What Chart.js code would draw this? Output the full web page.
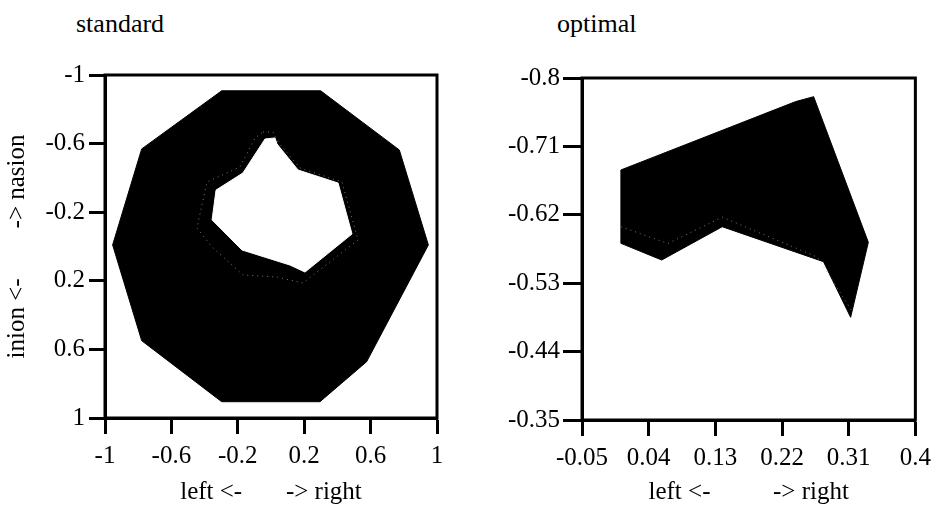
<!DOCTYPE html>
<html>
<head>
<meta charset="utf-8">
<script src="https://cdn.jsdelivr.net/npm/chart.js@4.4.1/dist/chart.umd.min.js"></script>
<style>
html, body { margin: 0; padding: 0; background: #fff; }
#wrap { position: relative; width: 938px; height: 505px; overflow: hidden; }
canvas { position: absolute; top: 0; }
.ttl { position: absolute; top: 11px; font: 26px 'Liberation Serif', serif; line-height: 25px; color: #000; }
</style>
</head>
<body>
<div id="wrap">
  <div class="ttl" style="left:76px">standard</div>
  <div class="ttl" style="left:557px">optimal</div>
  <canvas id="std" width="470" height="505" style="left:0"></canvas>
  <canvas id="opt" width="468" height="505" style="left:470px"></canvas>
</div>
<script>
// standard: outer ring edge, inner hole edge, faint dotted contour
const stdOuter = [[-0.297,-0.908],[0.299,-0.908],[0.773,-0.563],[0.948,-0.009],[0.576,0.672],[0.295,0.905],
    [-0.297,0.905],[-0.779,0.549],[-0.954,-0.009],[-0.779,-0.569],[-0.297,-0.908]];
const stdInner = [[-0.036,-0.627],[0.024,-0.633],[0.036,-0.598],[0.163,-0.446],[0.404,-0.370],[0.488,-0.073],
    [0.205,0.149],[0.114,0.108],[-0.175,0.020],[-0.355,-0.155],[-0.331,-0.329],[-0.169,-0.429],[-0.036,-0.627]];
const stdDots = [[-0.048,-0.668],[0.012,-0.668],[0.042,-0.609],[0.175,-0.458],[0.428,-0.376],[0.524,-0.038],
    [0.193,0.213],[0.036,0.178],[-0.169,0.166],[-0.355,0.003],[-0.446,-0.108],[-0.386,-0.376],[-0.187,-0.464],
    [-0.096,-0.633],[-0.048,-0.668]];

// optimal: filled shape and its dotted inner contour
const optShape = [[0.0025,-0.679],[0.2385,-0.769],[0.2627,-0.7754],[0.3365,-0.5838],[0.3126,-0.4851],[0.276,-0.5583],
    [0.1393,-0.6043],[0.0576,-0.5605],[0.0025,-0.5825],[0.0025,-0.679]];
const optDots = [[0.0025,-0.6043],[0.066,-0.5823],[0.1393,-0.6169],[0.2677,-0.5643],[0.314,-0.4941]];

const stdXTicks = [-1, -0.6, -0.2, 0.2, 0.6, 1];
const stdYTicks = [-1, -0.6, -0.2, 0.2, 0.6, 1];
const optXTicks = [-0.05, 0.04, 0.13, 0.22, 0.31, 0.4];
const optYTicks = [-0.8, -0.71, -0.62, -0.53, -0.44, -0.35];

const SP = '\u00A0';
const xTitleStd = 'left <-' + SP.repeat(7) + '-> right';
const xTitleOpt = 'left <-' + SP.repeat(10) + '-> right';
const yTitleStd = 'inion <-' + SP.repeat(8) + '-> nasion';

const FONT = { family: "'Liberation Serif', 'Times New Roman', serif", size: 25 };

const toPoints = arr => arr.map(([x, y]) => ({ x, y }));

const frame = {
    id: 'frame',
    afterDatasetsDraw(chart) {
        const { ctx, chartArea: a } = chart;
        ctx.save();
        ctx.strokeStyle = '#000';
        ctx.lineWidth = 3;
        ctx.strokeRect(a.left, a.top, a.right - a.left, a.bottom - a.top);
        ctx.restore();
    }
};

const makeScale = (tickValues, reverse, fitSize, tickLength, padding, title, titlePad = 0) => ({
    type: 'linear',
    min: tickValues[0],
    max: tickValues[tickValues.length - 1],
    reverse,
    afterBuildTicks: s => { s.ticks = tickValues.map(v => ({ value: v })); },
    afterFit: s => { if (s.isHorizontal()) s.height = fitSize; else s.width = fitSize; },
    ticks: { color: '#000', font: FONT, padding, maxRotation: 0, autoSkip: false, callback: v => String(v) },
    grid: { drawOnChartArea: false, drawTicks: true, tickLength, tickWidth: 3, tickColor: '#000', color: '#000' },
    border: { display: true, color: '#000', width: 3 },
    title: title
        ? { display: true, text: title, color: '#000', font: { ...FONT, lineHeight: 1 }, padding: { top: titlePad, bottom: 0 } }
        : { display: false }
});

const createShapeChart = (canvasId, sets, scales, area) => {
    const ctx = document.getElementById(canvasId);
    if (!ctx) return null;
    return new Chart(ctx, {
        type: 'scatter',
        data: { datasets: sets },
        options: {
            responsive: false,
            animation: false,
            layout: { padding: area },
            plugins: { legend: { display: false }, tooltip: { enabled: false } },
            scales
        },
        plugins: [frame]
    });
};

const filled = (pts, color, order) => ({
    data: toPoints(pts), showLine: true, tension: 0, pointRadius: 0,
    borderColor: color, borderWidth: 1, backgroundColor: color, fill: 'shape', order
});
const dotted = (pts, order) => ({
    data: toPoints(pts), showLine: true, tension: 0, pointRadius: 0,
    borderColor: 'rgba(170,170,170,0.7)', borderWidth: 1, borderDash: [1, 4], fill: false, order
});

createShapeChart('std', [
    filled(stdOuter, '#000', 3),
    filled(stdInner, '#fff', 2),
    dotted(stdDots, 1)
], {
    x: makeScale(stdXTicks, false, 87, 16, 7, xTitleStd),
    y: makeScale(stdYTicks, true, 105, 16, 4, yTitleStd, 5)
}, { top: 75, right: 33, left: 0, bottom: 0 });

createShapeChart('opt', [
    filled(optShape, '#000', 2),
    dotted(optDots, 1)
], {
    x: makeScale(optXTicks, false, 85, 16, 7, xTitleOpt),
    y: makeScale(optYTicks, true, 112, 19, 3, null)
}, { top: 78, right: 16, left: 0, bottom: 0 });
</script>
</body>
</html>
